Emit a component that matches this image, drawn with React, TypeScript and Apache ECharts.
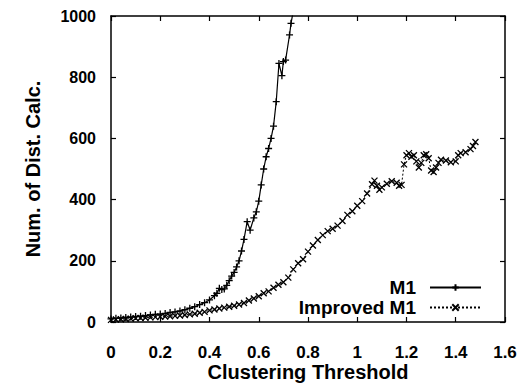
import React, { useEffect, useRef } from "react";
import * as echarts from "echarts";

const seriesNames = ["M1", "Improved M1"];

const m1X = [0.0, 0.02, 0.04, 0.06, 0.08, 0.1, 0.12, 0.14, 0.16, 0.18, 0.2, 0.22, 0.24, 0.26, 0.28, 0.3, 0.32, 0.34, 0.36, 0.38, 0.4, 0.42, 0.43, 0.44, 0.45, 0.46, 0.47, 0.48, 0.49, 0.5, 0.51, 0.52, 0.53, 0.54, 0.553, 0.565, 0.58, 0.59, 0.6, 0.61, 0.62, 0.63, 0.64, 0.65, 0.66, 0.671, 0.682, 0.694, 0.7, 0.709, 0.725, 0.731, 0.74];
const m1Y = [10, 12, 13, 15, 16, 18, 19, 21, 23, 25, 26, 28, 31, 33, 36, 40, 45, 50, 57, 63, 72, 86, 94, 110, 106, 108, 120, 135, 150, 162, 180, 200, 232, 270, 328, 300, 340, 360, 395, 448, 500, 540, 567, 600, 640, 720, 845, 805, 851, 856, 938, 976, 1015];

const impX = [0.0, 0.02, 0.04, 0.06, 0.08, 0.1, 0.12, 0.14, 0.16, 0.18, 0.2, 0.22, 0.24, 0.26, 0.28, 0.3, 0.32, 0.34, 0.36, 0.38, 0.4, 0.42, 0.44, 0.46, 0.48, 0.5, 0.52, 0.54, 0.56, 0.58, 0.6, 0.62, 0.64, 0.66, 0.68, 0.7, 0.72, 0.74, 0.76, 0.78, 0.8, 0.82, 0.84, 0.86, 0.88, 0.9, 0.92, 0.94, 0.96, 0.98, 1.0, 1.02, 1.04, 1.06, 1.07, 1.08, 1.09, 1.1, 1.12, 1.14, 1.16, 1.17, 1.18, 1.19, 1.2, 1.21, 1.22, 1.23, 1.24, 1.25, 1.26, 1.27, 1.28, 1.29, 1.3, 1.31, 1.32, 1.33, 1.34, 1.36, 1.38, 1.4, 1.41, 1.42, 1.44, 1.46, 1.47, 1.48];
const impY = [7, 8, 9, 10, 11, 12, 13, 14, 15, 16, 17, 18, 19, 20, 21, 23, 25, 27, 30, 33, 38, 41, 44, 47, 50, 53, 57, 62, 70, 77, 84, 94, 100, 112, 122, 130, 145, 172, 192, 205, 230, 250, 268, 284, 297, 305, 315, 330, 350, 362, 380, 395, 420, 450, 462, 445, 432, 440, 452, 460, 455, 445, 448, 515, 545, 552, 540, 545, 525, 505, 520, 545, 548, 535, 495, 490, 505, 520, 530, 528, 522, 525, 545, 552, 555, 565, 575, 588];

const FONT = "'Liberation Sans', Arial, Helvetica, sans-serif";
const PLUS = "path://M5,0L5,10M0,5L10,5";
const CROSS = "path://M0,0L10,10M10,0L0,10";

export default function App() {
  const ref = useRef<HTMLDivElement>(null);
  useEffect(() => {
    if (!ref.current) return;
    const chart = echarts.init(ref.current, undefined, { renderer: "svg" });
    const axisCommon = {
      axisLine: { show: true, onZero: false, lineStyle: { color: "#000", width: 1.5 } },
      axisTick: { show: true, inside: true, length: 5, lineStyle: { color: "#000", width: 1.2 } },
      splitLine: { show: false },
    };
    const fmt = (v: number) => String(v);
    chart.setOption({
      animation: false,
      backgroundColor: "#fff",
      grid: { left: 111, right: 19, top: 16, bottom: 61, containLabel: false, outerBoundsMode: "none" },
      legend: {
        orient: "vertical",
        right: 37,
        top: 273,
        align: "right",
        itemWidth: 51,
        itemHeight: 8,
        itemGap: 1,
        data: seriesNames,
        formatter: "{a|{name}}",
        textStyle: {
          rich: {
            a: { fontFamily: FONT, fontWeight: "bold", fontSize: 19, lineHeight: 18, color: "#000", padding: [0, 9, 0, 0] },
          },
        },
      },
      xAxis: [
        {
          type: "value",
          min: 0,
          max: 1.6,
          interval: 0.2,
          position: "bottom",
          name: "Clustering Threshold",
          nameLocation: "middle",
          nameGap: 40,
          nameMoveOverlap: false,
          nameTextStyle: { fontFamily: FONT, fontWeight: "bold", fontSize: 20, lineHeight: 20, color: "#000" },
          axisLabel: { fontFamily: FONT, fontWeight: "bold", fontSize: 17, lineHeight: 16, color: "#000", margin: 22, formatter: fmt },
          ...axisCommon,
        },
        {
          type: "value",
          min: 0,
          max: 1.6,
          interval: 0.2,
          position: "top",
          axisLabel: { show: false },
          ...axisCommon,
        },
      ],
      yAxis: [
        {
          type: "value",
          min: 0,
          max: 1000,
          interval: 200,
          position: "left",
          name: "Num. of Dist. Calc.",
          nameLocation: "middle",
          nameGap: 68,
          nameMoveOverlap: false,
          nameTextStyle: { fontFamily: FONT, fontWeight: "bold", fontSize: 20, color: "#000" },
          axisLabel: { fontFamily: FONT, fontWeight: "bold", fontSize: 16, color: "#000", margin: 15, formatter: fmt },
          ...axisCommon,
        },
        {
          type: "value",
          min: 0,
          max: 1000,
          interval: 200,
          position: "right",
          axisLabel: { show: false },
          ...axisCommon,
        },
      ],
      series: [
        {
          name: seriesNames[0],
          type: "line",
          data: m1X.map((x, i) => [x, m1Y[i]]),
          symbol: PLUS,
          symbolSize: 7,
          showAllSymbol: true,
          clip: true,
          lineStyle: { color: "#000", width: 1.2 },
          itemStyle: { color: "#000", borderColor: "#000", borderWidth: 1.3 },
        },
        {
          name: seriesNames[1],
          type: "line",
          data: impX.map((x, i) => [x, impY[i]]),
          symbol: CROSS,
          symbolSize: 6,
          showAllSymbol: true,
          clip: true,
          lineStyle: { color: "#000", width: 1, type: [2, 2] },
          itemStyle: { color: "#000", borderColor: "#000", borderWidth: 1.3 },
        },
      ],
    });
    return () => chart.dispose();
  }, []);
  return <div ref={ref} style={{ width: 524, height: 383, position: "absolute", left: 0, top: 0 }} />;
}
